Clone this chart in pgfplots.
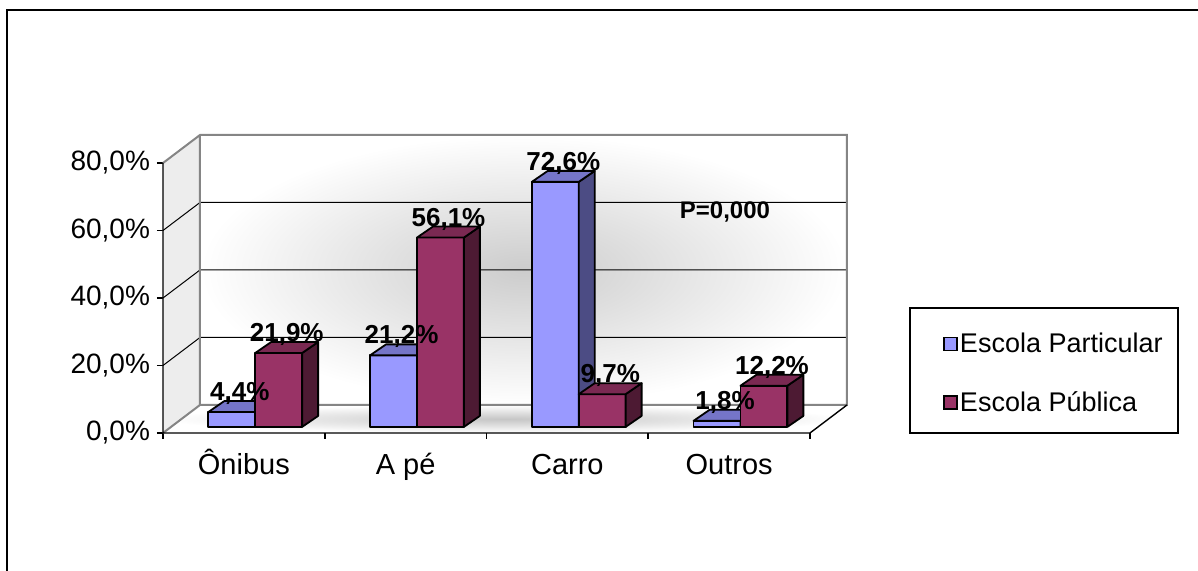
\documentclass[border=0pt]{standalone}
\usepackage{pgfplots}
\pgfplotsset{compat=1.18}
\usepackage{pgfplotstable}
\usepackage{fontspec}
\setmainfont{Liberation Sans}

\definecolor{pfront}{HTML}{9999FF}
\definecolor{ptop}{HTML}{7575C8}
\definecolor{pside}{HTML}{4C4C84}
\definecolor{rfront}{HTML}{993366}
\definecolor{rtop}{HTML}{7A2952}
\definecolor{rside}{HTML}{4D1A33}
\definecolor{edgegray}{HTML}{858585}

\pgfplotstableread{
cat part pub
0 4.4 21.9
1 21.2 56.1
2 72.6 9.7
3 1.8 12.2
}\datatable

\def\ox{0.099}\def\oy{3.26}\def\base{1.8}
\def\dx{0.2287}\def\dy{8.3}

\newcommand\drawbar[6]{%
  \pgfmathsetmacro\bxa{#1}%
  \pgfmathsetmacro\bxb{#2}%
  \pgfmathsetmacro\byb{\base}%
  \pgfmathsetmacro\byt{\base+#3}%
  \pgfmathsetmacro\bxap{#1+\ox}%
  \pgfmathsetmacro\bxbp{#2+\ox}%
  \pgfmathsetmacro\bybp{\base+\oy}%
  \pgfmathsetmacro\bytp{\base+#3+\oy}%
  \edef\temp{%
    \noexpand\addplot[forget plot,fill=#4,draw=black,line width=0.9pt,line join=round] coordinates {(\bxa,\byb) (\bxb,\byb) (\bxb,\byt) (\bxa,\byt)} --cycle;
    \noexpand\addplot[forget plot,fill=#6,draw=black,line width=0.9pt,line join=round] coordinates {(\bxb,\byb) (\bxbp,\bybp) (\bxbp,\bytp) (\bxb,\byt)} --cycle;
    \noexpand\addplot[forget plot,fill=#5,draw=black,line width=0.9pt,line join=round] coordinates {(\bxa,\byt) (\bxb,\byt) (\bxbp,\bytp) (\bxap,\bytp)} --cycle;
  }\temp}

\begin{document}
\begin{tikzpicture}
\begin{axis}[
  x=80.875pt, y=1.6875pt,
  xmin=0, xmax=4.2287, ymin=0, ymax=88.3,
  clip=false,
  axis line style={draw=none},
  tick align=outside,
  xtick pos=bottom, ytick pos=left,
  major tick length=3pt,
  tick style={black, line width=0.8pt},
  xtick={0,1,2,3,4}, xticklabels={},
  extra x ticks={0.5,1.5,2.5,3.5},
  extra x tick labels={Ônibus,A pé,Carro,Outros},
  extra x tick style={major tick length=0pt},
  x tick label style={font=\fontsize{14.5}{17}\selectfont, text height=11pt, text depth=3pt, yshift=-6pt},
  ytick={0,20,40,60,80},
  yticklabels={{0,0\%},{20,0\%},{40,0\%},{60,0\%},{80,0\%}},
  y tick label style={font=\fontsize{14}{16}\selectfont},
  legend style={draw=none, fill=none, at={(axis cs:4.8222,17.63)}, anchor=west,
    inner sep=0pt, row sep=16pt, column sep=0pt, nodes={inner sep=1pt},
    font=\fontsize{13.5}{16}\selectfont},
  legend cell align=left,
]
\addlegendimage{legend image code/.code={\draw[fill=pfront,draw=black,line width=0.8pt] (0pt,-3.25pt) rectangle (6.5pt,3.25pt);}}
\addlegendentry{Escola Particular}
\addlegendimage{legend image code/.code={\draw[fill=rfront,draw=black,line width=0.8pt] (0pt,-3.25pt) rectangle (6.5pt,3.25pt);}}
\addlegendentry{Escola Pública}

% walls
\addplot[forget plot, draw=none, inner color=gray!40, outer color=white] coordinates {(\dx,\dy) (4.2287,\dy) (4.2287,88.3) (\dx,88.3)} --cycle;
\addplot[forget plot, draw=none, fill=gray!14] coordinates {(0,0) (\dx,\dy) (\dx,88.3) (0,80)} --cycle;
\addplot[forget plot, draw=none, inner color=gray!45, outer color=white] coordinates {(0,0) (4,0) (4.2287,\dy) (\dx,\dy)} --cycle;

% gridlines
\addplot[forget plot, black, line width=0.5pt] coordinates {(0,20) (\dx,28.3) (4.2287,28.3)};
\addplot[forget plot, black, line width=0.5pt] coordinates {(0,40) (\dx,48.3) (4.2287,48.3)};
\addplot[forget plot, black, line width=0.5pt] coordinates {(0,60) (\dx,68.3) (4.2287,68.3)};

% edges
\addplot[forget plot, edgegray, line width=1pt] coordinates {(0,80) (\dx,88.3) (4.2287,88.3) (4.2287,\dy) (\dx,\dy) (\dx,88.3)};
\addplot[forget plot, edgegray, line width=1pt] coordinates {(0,0) (\dx,\dy)};
\addplot[forget plot, black, line width=0.7pt] coordinates {(0,80) (0,0) (4,0) (4.2287,\dy)};

% bars
\pgfplotsforeachungrouped \i in {0,...,3}{%
  \pgfplotstablegetelem{\i}{part}\of\datatable \let\vp\pgfplotsretval
  \pgfplotstablegetelem{\i}{pub}\of\datatable \let\vq\pgfplotsretval
  \pgfmathsetmacro\xa{\i+0.28}%
  \pgfmathsetmacro\xm{\i+0.57}%
  \pgfmathsetmacro\xb{\i+0.86}%
  \drawbar{\xa}{\xm}{\vp}{pfront}{ptop}{pside}%
  \drawbar{\xm}{\xb}{\vq}{rfront}{rtop}{rside}%
}

% value labels
\addplot[forget plot, draw=none, mark=none, point meta=\thisrow{part},
  nodes near coords={\pgfmathprintnumber[assume math mode=true,fixed,fixed zerofill,precision=1,use comma]{\pgfplotspointmeta}\%},
  nodes near coords style={anchor=base, yshift=3pt, font=\fontsize{13}{15}\selectfont\bfseries, inner sep=0pt}]
  table[x expr=\thisrow{cat}+0.475, y expr=\thisrow{part}+3.43] {\datatable};
\addplot[forget plot, draw=none, mark=none, point meta=\thisrow{pub},
  nodes near coords={\pgfmathprintnumber[assume math mode=true,fixed,fixed zerofill,precision=1,use comma]{\pgfplotspointmeta}\%},
  nodes near coords style={anchor=base, yshift=3pt, font=\fontsize{13}{15}\selectfont\bfseries, inner sep=0pt}]
  table[x expr=\thisrow{cat}+0.765, y expr=\thisrow{pub}+3.43] {\datatable};

\node[font=\fontsize{12}{14}\selectfont\bfseries] at (axis cs:3.474,65.5) {P=0,000};

% legend frame and outer frame
\draw[black, line width=0.6pt] (axis cs:4.6182,0) rectangle (axis cs:6.2751,37.04);
\draw[black, line width=1pt] (axis cs:-0.96445,-40.889) -- (axis cs:-0.96445,125.19) -- (axis cs:6.39876,125.19);

\coordinate (bl) at (axis cs:-1.00773,-40.889);
\coordinate (tr) at (axis cs:6.39876,128.296);
\end{axis}
\pgfresetboundingbox
\path[use as bounding box] (bl) rectangle (tr);
\end{tikzpicture}
\end{document}
